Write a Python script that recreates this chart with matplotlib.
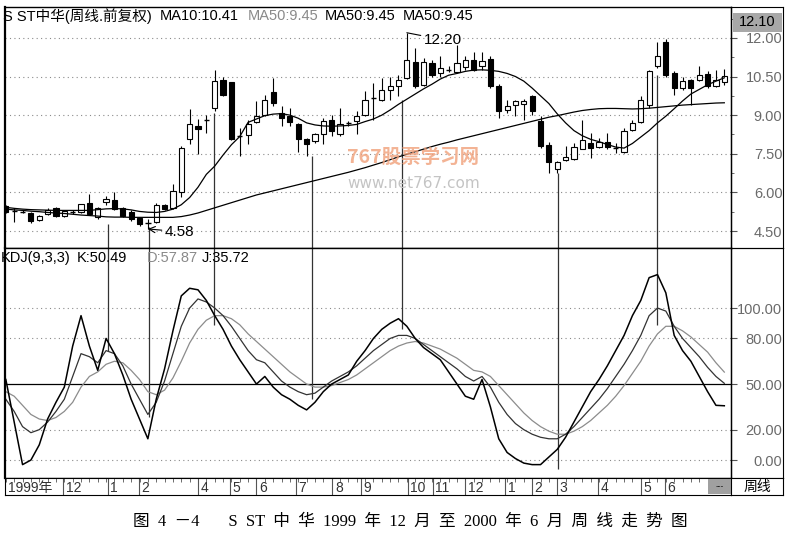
import matplotlib
matplotlib.use('Agg')
import matplotlib.pyplot as plt
from matplotlib.patches import Rectangle
from matplotlib.ticker import MultipleLocator, FixedLocator

W, H = 790, 541

# weekly candles (open, high, low, close)
opens = [5.47, 5.28, 5.26, 5.20, 4.92, 5.16, 5.38, 5.10, 5.24, 5.22, 5.58, 5.03, 5.62, 5.71, 5.38, 5.25, 4.99, 4.80,
         4.85, 5.50, 5.38, 6.00, 8.08, 8.57, 8.82, 9.28, 10.35, 10.27, 8.20, 8.21, 8.72, 9.02, 9.89, 9.09, 8.96, 8.64,
         8.08, 7.99, 8.25, 8.83, 8.25, 8.67, 8.77, 9.02, 9.66, 9.60, 9.99, 10.12, 10.44, 11.08, 10.18, 11.04, 10.64,
         10.73, 10.66, 10.87, 11.15, 10.89, 11.18, 10.12, 9.19, 9.41, 9.42, 9.73, 8.77, 7.83, 6.90, 7.27, 7.31, 7.70,
         7.93, 7.76, 7.97, 7.73, 7.57, 8.44, 8.72, 9.41, 10.89, 11.86, 10.64, 10.06, 10.35, 10.35, 10.61, 10.14, 10.27]
highs = [5.52, 5.40, 5.30, 5.22, 5.14, 5.40, 5.42, 5.30, 5.32, 5.56, 5.93, 5.42, 5.87, 6.00, 5.42, 5.30, 5.02, 4.97,
         5.60, 5.55, 6.32, 7.80, 9.22, 8.86, 9.02, 10.76, 10.50, 10.30, 8.51, 8.83, 9.54, 9.80, 10.44, 9.35, 9.28, 8.70,
         8.12, 8.30, 8.90, 9.02, 9.28, 8.77, 9.15, 9.92, 10.25, 10.44, 10.50, 10.57, 12.20, 11.60, 11.21, 11.15, 11.28,
         10.89, 11.73, 11.28, 11.47, 11.47, 11.30, 10.20, 9.60, 9.60, 9.62, 9.80, 8.96, 7.95, 7.22, 7.80, 7.93, 8.83,
         8.32, 8.12, 8.32, 7.93, 8.51, 8.83, 9.73, 10.76, 11.86, 11.95, 10.70, 10.50, 10.40, 10.89, 10.70, 10.76, 10.79]
lows = [5.20, 4.86, 5.20, 4.82, 4.88, 5.14, 5.06, 5.06, 5.15, 5.20, 5.14, 4.98, 5.50, 5.32, 5.05, 4.90, 4.70, 4.58,
        4.80, 5.30, 5.35, 5.84, 7.86, 7.48, 8.32, 9.15, 9.73, 8.02, 7.41, 7.86, 8.68, 8.98, 9.35, 8.57, 8.57, 7.55,
        7.41, 7.90, 7.86, 8.18, 8.18, 8.57, 8.25, 8.96, 8.83, 9.54, 9.60, 9.73, 10.40, 10.06, 10.12, 10.50, 10.50,
        10.66, 10.62, 10.76, 10.70, 10.76, 10.06, 8.90, 9.09, 8.96, 8.83, 9.02, 7.74, 6.74, 6.75, 7.22, 7.26, 7.67,
        7.35, 7.72, 7.67, 7.54, 7.54, 8.40, 8.70, 9.28, 10.83, 10.50, 9.80, 9.99, 9.40, 10.31, 10.06, 10.10, 10.18]
closes = [5.24, 5.27, 5.25, 4.90, 5.10, 5.32, 5.10, 5.28, 5.22, 5.54, 5.16, 5.38, 5.75, 5.35, 5.07, 4.97, 4.78, 4.82,
          5.50, 5.34, 6.06, 7.74, 8.64, 8.47, 8.84, 10.31, 9.80, 8.08, 8.17, 8.64, 8.96, 9.60, 9.48, 8.90, 8.72, 8.06,
          7.86, 8.25, 8.77, 8.38, 8.64, 8.69, 8.96, 9.60, 9.68, 9.99, 10.14, 10.38, 11.15, 10.12, 11.08, 10.57, 10.83,
          10.75, 11.04, 11.15, 10.76, 11.12, 10.12, 9.15, 9.37, 9.54, 9.55, 9.15, 7.82, 7.18, 7.18, 7.36, 7.76, 8.03,
          7.74, 7.95, 7.78, 7.75, 8.38, 8.70, 9.60, 10.70, 11.28, 10.57, 10.06, 10.31, 10.06, 10.57, 10.12, 10.35, 10.53]

ma10 = [5.42, 5.38, 5.35, 5.33, 5.32, 5.31, 5.30, 5.30, 5.30, 5.30, 5.30, 5.33, 5.36, 5.37, 5.36, 5.32, 5.26, 5.23,
        5.22, 5.26, 5.35, 5.52, 5.80, 6.20, 6.70, 7.02, 7.45, 7.85, 8.17, 8.72, 8.85, 8.98, 9.04, 9.06, 9.00, 8.88,
        8.70, 8.62, 8.58, 8.57, 8.58, 8.60, 8.64, 8.75, 8.85, 9.00, 9.20, 9.42, 9.62, 9.82, 10.02, 10.20, 10.40, 10.55,
        10.62, 10.70, 10.75, 10.76, 10.74, 10.70, 10.62, 10.50, 10.32, 10.05, 9.75, 9.45, 9.05, 8.70, 8.40, 8.20, 8.06,
        7.97, 7.86, 7.76, 7.72, 7.90, 8.15, 8.40, 8.70, 8.96, 9.25, 9.55, 9.82, 10.00, 10.18, 10.32, 10.45]
ma50 = [5.35, 5.32, 5.30, 5.27, 5.25, 5.22, 5.20, 5.18, 5.15, 5.12, 5.10, 5.08, 5.05, 5.04, 5.04, 5.03, 5.03, 5.03,
        5.03, 5.03, 5.03, 5.06, 5.12, 5.20, 5.30, 5.40, 5.50, 5.60, 5.70, 5.80, 5.90, 5.98, 6.06, 6.14, 6.22, 6.30,
        6.38, 6.46, 6.54, 6.62, 6.70, 6.78, 6.87, 6.96, 7.06, 7.16, 7.27, 7.38, 7.48, 7.58, 7.68, 7.78, 7.87, 7.95,
        8.04, 8.12, 8.20, 8.28, 8.36, 8.44, 8.52, 8.60, 8.68, 8.76, 8.84, 8.92, 8.98, 9.05, 9.12, 9.18, 9.22, 9.25,
        9.26, 9.26, 9.25, 9.24, 9.25, 9.27, 9.30, 9.33, 9.36, 9.39, 9.41, 9.43, 9.45, 9.47, 9.48]

k_vals = [40, 32, 22, 18, 20, 25, 32, 40, 55, 70, 68, 64, 72, 70, 62, 50, 40, 30, 38, 52, 70, 88, 100, 106, 104, 100,
          95, 88, 80, 72, 66, 64, 58, 52, 48, 45, 43, 44, 48, 52, 55, 58, 62, 67, 72, 76, 80, 82, 82, 80, 76, 72, 68,
          64, 60, 55, 52, 55, 48, 38, 30, 24, 20, 17, 15, 14, 14, 17, 22, 28, 34, 40, 47, 55, 63, 72, 82, 95, 100, 98,
          88, 80, 74, 68, 61, 55, 50.49]
d_vals = [45, 42, 36, 30, 27, 26, 28, 32, 38, 48, 55, 58, 63, 65, 64, 59, 53, 45, 43, 46, 54, 65, 77, 86, 92, 95, 95,
          93, 89, 83, 78, 73, 68, 63, 58, 54, 50, 48, 48, 49, 51, 53, 56, 60, 64, 68, 72, 75, 77, 78, 77, 75, 73, 70,
          67, 63, 59, 58, 55, 49, 43, 37, 31, 26, 22, 19, 17, 17, 19, 22, 26, 31, 36, 42, 49, 57, 65, 75, 83, 88, 88,
          85, 81, 76, 71, 64, 57.87]
j_vals = [53, 25, -3, 0, 10, 27, 38, 48, 75, 95, 75, 59, 80, 70, 56, 40, 27, 14, 40, 60, 85, 108, 113, 112, 105, 95,
          86, 75, 66, 58, 50, 55, 48, 43, 40, 36, 33, 38, 45, 50, 53, 56, 65, 72, 80, 86, 90, 93, 88, 80, 74, 70, 66,
          58, 50, 42, 40, 53, 35, 14, 5, 1, -2, -3, -3, 2, 7, 15, 25, 35, 45, 53, 62, 72, 82, 95, 105, 120, 122, 110,
          82, 72, 65, 55, 45, 36, 35.72]

# reference lines: candle, price end, KDJ end
ref_idx = [12.2, 17.1, 24.9, 36.6, 47.4, 66.1, 78.0]
ref_price = [4.77, 4.65, 9.10, 7.41, 9.60, 6.75, 10.57]
ref_kdj = [72, 28, 89, 40, 86, -6, 89]

month_ticks = [6.9, 12.2, 15.9, 23.0, 26.8, 30.0, 34.7, 39.1, 42.5, 48.1, 51.1, 55.0, 59.8, 63.0, 66.0, 70.9, 76.0, 78.9]
month_labels = ['12', '1', '2', '4', '5', '6', '7', '8', '9', '10', '11', '12', '1', '2', '3', '4', '5', '6']

price_ticks = [4.5, 6.0, 7.5, 9.0, 10.5, 12.0]
kdj_ticks = [0, 20, 50, 80, 100]

CJK = ['Liberation Sans', 'Noto Sans CJK SC']
plt.rcParams['font.family'] = CJK


def box(x0, y0, x1, y1):
    return [x0 / W, 1 - y1 / H, (x1 - x0) / W, (y1 - y0) / H]


fig = plt.figure(figsize=(W / 100, H / 100), dpi=100)
ax = fig.add_axes(box(5, 7, 731, 248))
axk = fig.add_axes(box(5, 248, 731, 478), sharex=ax)
axd = fig.add_axes(box(5, 478, 731, 495), sharex=ax)
for a in (box(731, 7, 783, 248), box(731, 248, 783, 478)):
    ar = fig.add_axes(a)
    ar.set_facecolor('none')
    ar.set_xticks([])
    ar.set_yticks([])
axw = fig.add_axes(box(731, 478, 783, 495))
axw.set_xticks([])
axw.set_yticks([])
axw.text(0.5, 0.45, '周线', ha='center', va='center', fontsize=10, transform=axw.transAxes)

n = len(closes)
xs = list(range(n))

# candles
ax.vlines(xs, lows, highs, color='black', lw=0.8, zorder=2)
for i in xs:
    o, c = opens[i], closes[i]
    lo, hi = min(o, c), max(o, c)
    if hi - lo < 0.03:
        ax.hlines((o + c) / 2, i - 0.32, i + 0.32, color='black', lw=1, zorder=3)
    else:
        ax.bar(i, hi - lo, bottom=lo, width=0.62, facecolor='white' if c > o else 'black',
               edgecolor='black', lw=0.8, zorder=3)

ax.plot(xs, ma10, color='black', lw=0.9, zorder=4)
ax.plot(xs, ma50, color='black', lw=0.9, zorder=4)

ax.set_xlim(-0.1, 86.8)
ax.set_ylim(3.84, 13.2)
axk.set_ylim(-11.8, 139.5)

for a, ticks in ((ax, price_ticks), (axk, kdj_ticks)):
    a.yaxis.tick_right()
    a.yaxis.set_major_locator(FixedLocator(ticks))
    a.set_yticklabels(['%.2f' % t for t in ticks])
    a.tick_params(axis='y', which='major', direction='out', length=4, pad=33, labelsize=10.5,
                  labelcolor='#6a6a6a', color='#555555')
    a.tick_params(axis='y', which='minor', direction='out', length=2, color='#555555')
    for lab in a.get_yticklabels():
        lab.set_horizontalalignment('right')
    a.tick_params(axis='x', bottom=False, labelbottom=False)
    for s in a.spines.values():
        s.set_linewidth(1.0)
ax.yaxis.set_minor_locator(MultipleLocator(0.75))
ax.spines['left'].set_linewidth(1.6)
axk.spines['left'].set_linewidth(1.6)

for t in price_ticks:
    ax.axhline(t, color='#8a8a8a', lw=0.8, ls=(0, (1, 3)), zorder=1)
for t in kdj_ticks:
    if t == 50:
        axk.axhline(t, color='black', lw=0.9, zorder=1)
    else:
        axk.axhline(t, color='#8a8a8a', lw=0.8, ls=(0, (1, 3)), zorder=1)

axk.plot(xs, d_vals, color='#8c8c8c', lw=0.9)
axk.plot(xs, k_vals, color='#333333', lw=0.9)
axk.plot(xs, j_vals, color='black', lw=1.1)

# reference lines through both panels
ax.vlines(ref_idx, ref_price, 3.84, color='#333333', lw=0.9, zorder=1)
axk.vlines(ref_idx, ref_kdj, 139.5, color='#333333', lw=0.9, zorder=1)

# 12.10 highlight box
fig.patches.append(Rectangle((733 / W, 1 - 32 / H), 49 / W, 19 / H, transform=fig.transFigure,
                             facecolor='#a8a8a8', edgecolor='none', zorder=5))
fig.text(757 / W, 1 - 22 / H, '12.10', ha='center', va='center', fontsize=10.5, zorder=6)

# annotations
ax.annotate('12.20', xy=(48, highs[48]), xytext=(12, -5), textcoords='offset points',
            fontsize=11, va='center', arrowprops=dict(arrowstyle='-', lw=0.8, color='black',
                                                      shrinkA=0, shrinkB=0))
ax.annotate('4.58', xy=(17, lows[17]), xytext=(12, -2), textcoords='offset points',
            fontsize=11, va='center', arrowprops=dict(arrowstyle='->', lw=0.8, color='black',
                                                      shrinkA=0, shrinkB=0))

# header texts
ty = 1 - 16 / H
fig.text(3 / W, ty, 'S ST中华(周线.前复权)', fontsize=10.5, va='center')
fig.text(160 / W, ty, 'MA10:10.41', fontsize=10.5, va='center')
fig.text(248 / W, ty, 'MA50:9.45', fontsize=10.5, va='center', color='#8a8a8a')
fig.text(325 / W, ty, 'MA50:9.45', fontsize=10.5, va='center')
fig.text(403 / W, ty, 'MA50:9.45', fontsize=10.5, va='center')
ky = 1 - 258 / H
fig.text(1 / W, ky, 'KDJ(9,3,3)', fontsize=10.5, va='center')
fig.text(77 / W, ky, 'K:50.49', fontsize=10.5, va='center')
fig.text(147 / W, ky, 'D:57.87', fontsize=10.5, va='center', color='#8a8a8a')
fig.text(202 / W, ky, 'J:35.72', fontsize=10.5, va='center')

# watermark
fig.text(413 / W, 1 - 157 / H, '767股票学习网', fontsize=14, fontweight='bold', style='italic',
         color='#f0a07a', alpha=0.8, ha='center', va='center', family=['Noto Sans CJK SC'])
fig.text(414 / W, 1 - 183 / H, 'www.net767.com', fontsize=11, color='#c4c4c4', ha='center', va='center',
         family=['DejaVu Sans'])

# date strip
axd.set_ylim(0, 1)
axd.set_yticks([])
axd.tick_params(axis='x', bottom=False, labelbottom=False)
axd.vlines(xs, 0.78, 1.0, color='#555555', lw=0.6)
axd.vlines(month_ticks, 0, 1, color='#555555', lw=0.8)
axd.text(0.3, 0.42, '1999年', fontsize=10, va='center', color='#333333')
for p, lab in zip(month_ticks, month_labels):
    axd.text(p + 0.3, 0.42, lab, fontsize=10, va='center', color='#333333')
axd.add_patch(Rectangle((0.968, 0.05), 0.032, 0.9, transform=axd.transAxes, facecolor='#a0a0a0',
                        edgecolor='none', zorder=3))
axd.text(0.984, 0.5, '---', transform=axd.transAxes, ha='center', va='center', fontsize=6, zorder=4)

# caption
caption = '图  4  －4       S  ST  中  华  1999  年  12  月  至  2000  年  6  月  周  线  走  势  图'
fig.text(410 / W, 1 - 522 / H, caption, ha='center', va='center', fontsize=12,
         family=['Liberation Serif', 'Noto Sans CJK SC'])

fig.savefig('out.png', dpi=100)
